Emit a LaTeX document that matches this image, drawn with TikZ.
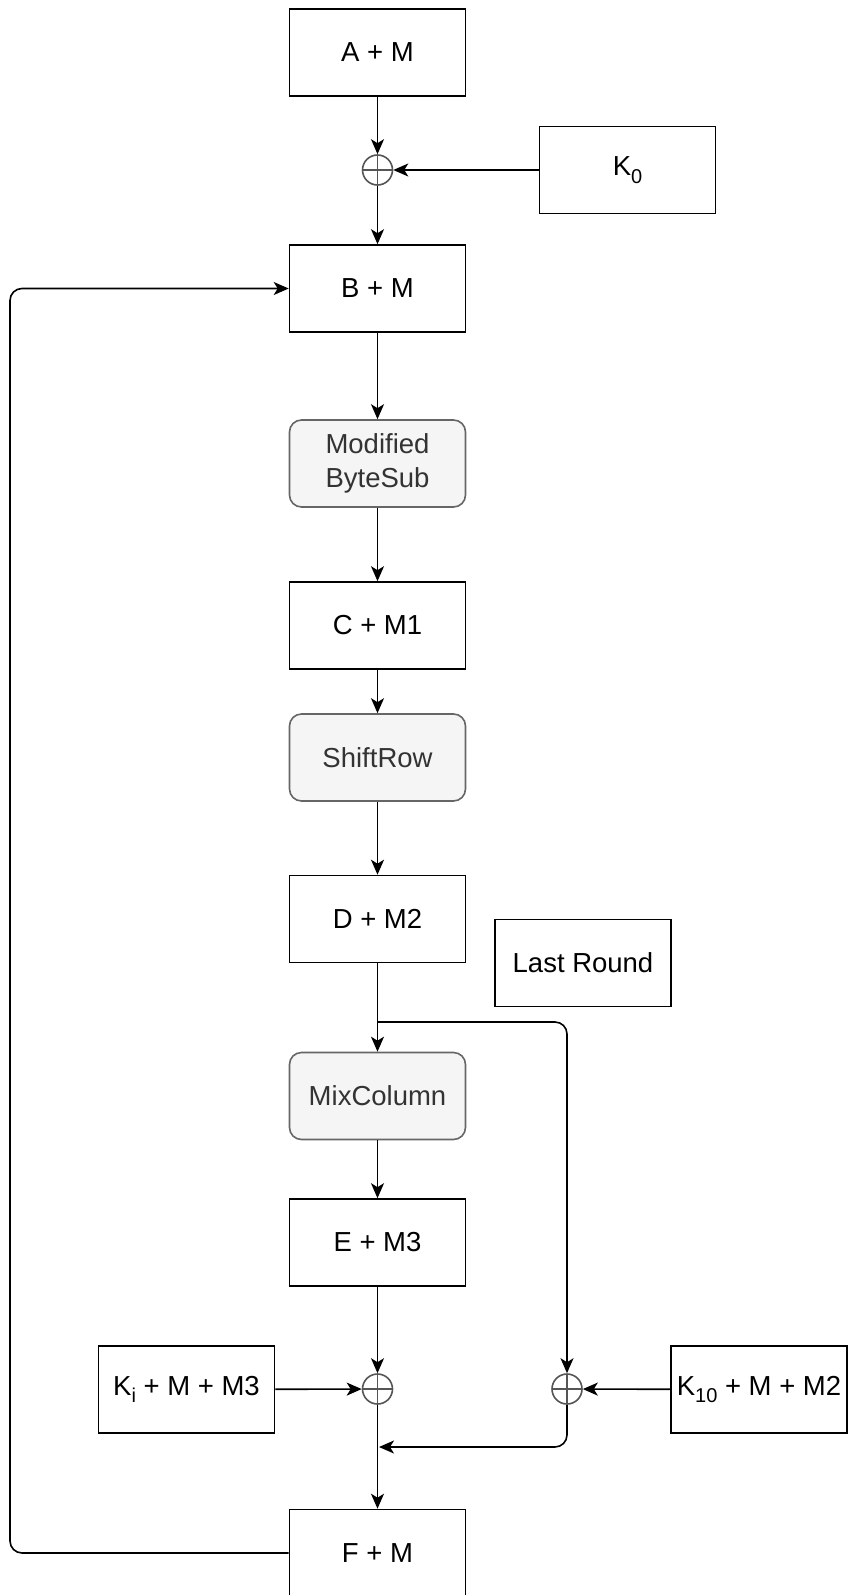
\documentclass[tikz,border=0pt]{standalone}
\usepackage{fontspec}
\setmainfont{Liberation Sans}
\usetikzlibrary{arrows.meta}
\definecolor{grayfill}{HTML}{F5F5F5}
\definecolor{graydraw}{HTML}{666666}
\definecolor{graytext}{HTML}{333333}
\definecolor{xorgray}{HTML}{555555}
\newcommand{\sbs}[1]{\raisebox{-0.28em}{\fontsize{20}{22}\selectfont #1}}
\tikzset{
  box/.style={draw=black, line width=1.6pt, minimum width=176pt, minimum height=87pt, inner sep=0pt, font=\fontsize{27.5}{33}\selectfont, text=black},
  opbox/.style={box, draw=graydraw, fill=grayfill, rounded corners=12pt, text=graytext, align=center},
  xor/.style={circle, draw=xorgray, line width=1.6pt, minimum size=30pt, inner sep=0pt, path picture={
      \draw[xorgray, line width=1.6pt] (path picture bounding box.north) -- (path picture bounding box.south)
        (path picture bounding box.west) -- (path picture bounding box.east);}},
  conn/.style={line width=1.6pt, -{Stealth[length=15pt, width=13pt, inset=4pt]}},
}
\begin{document}
\begin{tikzpicture}[x=1pt, y=-1pt]
\useasboundingbox (0,0) rectangle (848,1595);
\node[box] (am) at (377.5,52.5) {A + M};
\node[box] (k0) at (627.5,170) {K\sbs{0}};
\node[xor] (x0) at (377.5,170) {};
\node[box] (bm) at (377.5,288.5) {B + M};
\node[opbox] (mb) at (377.5,463.5) {Modified\\[1pt]ByteSub};
\node[box] (cm1) at (377.5,625.5) {C + M1};
\node[opbox] (sr) at (377.5,757.5) {ShiftRow};
\node[box] (dm2) at (377.5,919) {D + M2};
\node[box] (lr) at (583,963) {Last Round};
\node[opbox] (mc) at (377.5,1096) {MixColumn};
\node[box] (em3) at (377.5,1242.5) {E + M3};
\node[box] (ki) at (186.5,1389.5) {K\sbs{i} + M + M3};
\node[xor] (x1) at (377.5,1389) {};
\node[xor] (x2) at (567,1389) {};
\node[box] (k10) at (759,1389.5) {K\sbs{10} + M + M2};
\node[box] (fm) at (377.5,1553) {F + M};
\coordinate (br) at (377.5,1022);
\coordinate (jn) at (379,1447);

\draw[conn] (am) -- (x0);
\draw[conn] (k0) -- (x0);
\draw[conn] (x0) -- (bm);
\draw[conn] (bm) -- (mb);
\draw[conn] (mb) -- (cm1);
\draw[conn] (cm1) -- (sr);
\draw[conn] (sr) -- (dm2);
\draw[conn] (dm2) -- (mc);
\draw[conn] (mc) -- (em3);
\draw[conn] (em3) -- (x1);
\draw[conn] (ki) -- (x1);
\draw[conn] (k10) -- (x2);
\draw[conn] (x1) -- (fm);
\draw[conn, rounded corners=12pt] (br) -| (x2);
\draw[conn, rounded corners=12pt] (x2) |- (jn);
\draw[conn, rounded corners=12pt] (fm.west) -| (10,1000) |- (bm.west);
\end{tikzpicture}
\end{document}
